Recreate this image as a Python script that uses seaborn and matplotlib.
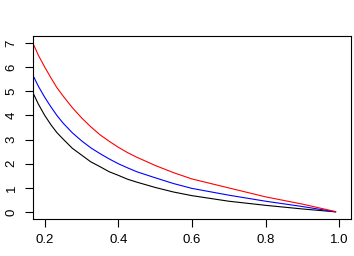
import pandas as pd
import seaborn as sns
import matplotlib
matplotlib.use("Agg")
import matplotlib.pyplot as plt

# values
x = [0.167, 0.183, 0.2, 0.217, 0.233, 0.25, 0.275, 0.3, 0.325, 0.35, 0.375,
     0.4, 0.425, 0.45, 0.5, 0.55, 0.6, 0.7, 0.8, 0.9, 0.99]
black = [4.97, 4.46, 4.0, 3.61, 3.29, 3.02, 2.64, 2.36, 2.08, 1.88, 1.67,
         1.52, 1.36, 1.24, 1.02, 0.83, 0.68, 0.45, 0.28, 0.13, 0.01]
blue = [5.69, 5.2, 4.75, 4.35, 4.0, 3.68, 3.28, 2.95, 2.66, 2.42, 2.2,
        2.0, 1.83, 1.67, 1.42, 1.18, 0.98, 0.70, 0.45, 0.23, 0.01]
red = [7.02, 6.48, 6.0, 5.55, 5.15, 4.8, 4.32, 3.9, 3.53, 3.2, 2.93,
       2.68, 2.46, 2.27, 1.93, 1.63, 1.37, 1.0, 0.63, 0.33, 0.02]

df = pd.DataFrame({
    "x": x * 3,
    "y": black + blue + red,
    "curve": ["black"] * len(x) + ["blue"] * len(x) + ["red"] * len(x),
})

sns.set_style("ticks")
plt.rcParams['font.family'] = ['Liberation Sans', 'DejaVu Sans']

fig = plt.figure(figsize=(3.54, 2.56), dpi=100)
ax = fig.add_axes([0.093, 0.145, 0.899, 0.714])
sns.lineplot(data=df, x="x", y="y", hue="curve",
             palette={"black": "black", "blue": "#0000ff", "red": "#ff0000"},
             linewidth=0.8, legend=False, ax=ax)

ax.set_xlim(0.168, 1.032)
ax.set_ylim(-0.28, 7.28)
ax.set_xticks([0.2, 0.4, 0.6, 0.8, 1.0])
ax.set_xticklabels(["0.2", "0.4", "0.6", "0.8", "1.0"])
ax.set_yticks(range(8))
ax.set_yticklabels([str(i) for i in range(8)], rotation=90, va="center")
ax.tick_params(length=6, width=0.8, labelsize=9.5, pad=5,
               color="black", labelcolor="black")
ax.set_xlabel("")
ax.set_ylabel("")
for s in ax.spines.values():
    s.set_visible(True)
    s.set_linewidth(0.8)
    s.set_color("black")

fig.savefig("out.png", dpi=100)
